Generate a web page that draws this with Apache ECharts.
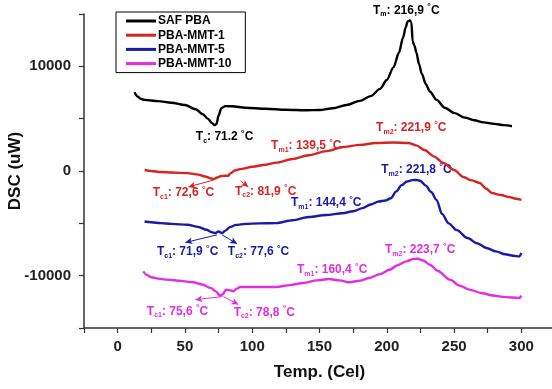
<!DOCTYPE html>
<html><head><meta charset="utf-8">
<script src="https://cdn.jsdelivr.net/npm/echarts@6/dist/echarts.min.js"></script>
<style>html,body{margin:0;padding:0;background:#fff}#c{width:552px;height:389px}</style>
</head><body><div id="c"></div>
<script>
// ---- data ----
const seriesNames = ['SAF PBA', 'PBA-MMT-1', 'PBA-MMT-5', 'PBA-MMT-10'];

const safTemp = [12.5,15,17,20,30,40,50,58,63,67,70,72,73.5,75,77,80,85,95,110,125,140,150,160,170,180,188,195,200,205,209,212,214,215.5,217,218.3,219.2,220.5,222,224,226,229,232,237,243,250,258,265,272,280,287,293];
const safDsc  = [7520,7100,6900,6800,6680,6520,6300,5900,5450,5000,4600,4380,4500,5300,6000,6200,6180,6050,5950,5850,5800,5830,6000,6300,6700,7150,7850,8700,9900,11300,12700,13700,14300,14380,14200,12400,12000,11300,10200,9300,8300,7600,6800,6050,5550,5100,4850,4650,4500,4380,4280];

const mmt1Temp = [20,25,32,40,52,60,65,69,71.5,74,77,80,82,84,87,92,100,110,118,130,142,155,168,180,192,205,216,222,228,235,242,250,257,263,269,274,278,285,291,296,300];
const mmt1Dsc  = [95,0,-100,-150,-200,-350,-520,-700,-780,-620,-480,-450,-470,-200,50,200,400,600,800,1150,1500,1900,2290,2500,2670,2720,2680,2450,2000,1400,760,100,-570,-900,-1140,-1700,-2100,-2300,-2480,-2650,-2760];

const mmt5Temp = [20,25,32,40,52,60,66,70,72.5,75,77.5,80,83.5,88,95,105,118,130,142,155,167,175,182,188,194,199,203,207,211,215,219,222,225,229,233,237,241,246,252,260,267,274,281,288,294,298.5,300];
const mmt5Dsc  = [-4830,-4900,-4980,-5050,-5140,-5350,-5620,-5850,-5940,-5780,-5940,-5700,-5360,-5150,-5050,-5000,-4980,-4700,-4400,-4200,-4030,-3850,-3550,-3200,-2920,-2820,-2600,-1950,-1350,-1000,-870,-860,-950,-1400,-2000,-2760,-4100,-5000,-5650,-6400,-6900,-7350,-7680,-7950,-8100,-8160,-7840];

const mmt10Temp = [19,22,25,30,37,47,56,63,69,73,76,78,80.5,83,86,88.5,91,100,110,118,128,138,148,157,165,172,180,187,195,202,208,214.5,220,223,227,232,238,247,254,261.5,270,279,288,298.5,300];
const mmt10Dsc  = [-9590,-9950,-10150,-10280,-10380,-10500,-10630,-10850,-11170,-11500,-11900,-11800,-11350,-11380,-11490,-11250,-11080,-11080,-11080,-11080,-10900,-10700,-10450,-10320,-10450,-10630,-10480,-10220,-9850,-9430,-9000,-8630,-8400,-8380,-8550,-8950,-9550,-10380,-10950,-11330,-11650,-11900,-12050,-12130,-11900];

const xTicks = [0,50,100,150,200,250,300];
const yTicks = [-10000,0,10000];

// annotations: [series, main symbol, subscript, value text, x, y]
const annotations = [
  [0,'T','m',': 216,9 ',214.5,15333],
  [0,'T','c',': 71.2 ',79.5,3240],
  [1,'T','m1',': 139,5 ',140.2,2380],
  [1,'T','m2',': 221,9 ',218.2,4100],
  [1,'T','c1',': 72,6 ',48.9,-2100],
  [1,'T','c2',': 81,9 ',110,-1950],
  [2,'T','m1',': 144,4 ',155,-3050],
  [2,'T','m2',': 221,8 ',222,95],
  [2,'T','c1',': 71,9 ',52,-7700],
  [2,'T','c2',': 77,6 ',104.7,-7700],
  [3,'T','c1',': 75,6 ',44.5,-13400],
  [3,'T','c2',': 78,8 ',109,-13520],
  [3,'T','m1',': 160,4 ',159.4,-9430],
  [3,'T','m2',': 223,7 ',224.8,-7520]
];
// arrows: [series, x1, y1, x2, y2]
const arrows = [
  [1,71.2,-860,52.6,-1520],
  [1,91.3,-950,97.1,-1520],
  [2,73.8,-6100,50.3,-6830],
  [2,77.6,-6100,88.7,-6950],
  [3,77.8,-12000,57.7,-12290],
  [3,78.6,-12000,89.7,-12760]
];

// ---- chart ----
const colors = ['#000000','#d42424','#1a1aa6','#e02ee0'];
const FONT = 'Liberation Sans, Arial, sans-serif';
const zip = (a,b) => a.map((v,i)=>[v,b[i]]);
const allData = [zip(safTemp,safDsc), zip(mmt1Temp,mmt1Dsc), zip(mmt5Temp,mmt5Dsc), zip(mmt10Temp,mmt10Dsc)];

const chart = echarts.init(document.getElementById('c'), null, {renderer:'canvas'});
const axisCol = '#333';
const option = {
  animation: false,
  backgroundColor: '#fff',
  grid: {left: 84, right: -3, top: 14, bottom: 61, containLabel: false, outerBoundsMode: 'none'},
  legend: {
    orient: 'vertical', left: 116, top: 12,
    data: seriesNames.map(n => ({name: n, icon: 'rect'})),
    borderColor: '#000', borderWidth: 1, borderRadius: 0,
    padding: [3, 14, 3, 10],
    itemWidth: 30, itemHeight: 3, itemGap: 2.2,
    textStyle: {fontFamily: FONT, fontWeight: 'bold', fontSize: 12, color: '#000', padding: [0,0,0,-3]}
  },
  xAxis: {
    type: 'value', min: -25, max: 325, interval: 25,
    name: 'Temp. (Cel)', nameLocation: 'middle', nameGap: 36, nameMoveOverlap: false,
    nameTextStyle: {fontFamily: FONT, fontWeight: 'bold', fontSize: 17, color: '#111'},
    axisLine: {show: true, onZero: false, lineStyle: {color: axisCol, width: 1.5}},
    axisTick: {show: true, length: 5, lineStyle: {color: axisCol, width: 1.2}},
    axisLabel: {fontFamily: FONT, fontWeight: 'bold', fontSize: 15, color: '#222', margin: 11,
      formatter: v => xTicks.includes(v) ? String(v) : ''},
    splitLine: {show: false}
  },
  yAxis: {
    type: 'value', min: -15000, max: 15000, interval: 5000,
    name: 'DSC (uW)', nameLocation: 'middle', nameGap: 60, nameMoveOverlap: false,
    nameTextStyle: {fontFamily: FONT, fontWeight: 'bold', fontSize: 17, color: '#111'},
    axisLine: {show: true, onZero: false, lineStyle: {color: axisCol, width: 1.5}},
    axisTick: {show: true, length: 5, lineStyle: {color: axisCol, width: 1.2}},
    axisLabel: {fontFamily: FONT, fontWeight: 'bold', fontSize: 15, color: '#222', margin: 13,
      formatter: v => yTicks.includes(v) ? String(v) : ''},
    splitLine: {show: false}
  },
  series: seriesNames.map((n,i) => ({
    name: n, type: 'line', data: allData[i], smooth: 0.3, smoothMonotone: 'x', clip: false,
    showSymbol: false, symbol: 'none',
    lineStyle: {color: colors[i], width: 2.4},
    itemStyle: {color: colors[i]},
    markLine: {
      silent: true, animation: false,
      symbol: ['none','arrow'], symbolSize: [5,7],
      lineStyle: {color: colors[i], width: 1, type: 'solid'},
      label: {show: false},
      data: arrows.filter(a => a[0]===i).map(a => [{coord:[a[1],a[2]]},{coord:[a[3],a[4]]}])
    }
  }))
};
chart.setOption(option);

function richFor(col){
  return {
    m: {fontFamily: FONT, fontWeight: 'bold', fontSize: 12, fill: col, color: col},
    s: {fontFamily: FONT, fontWeight: 'bold', fontSize: 7, fill: col, color: col, padding: [8,0,0,0]},
    d: {fontFamily: FONT, fontWeight: 'bold', fontSize: 9, fill: col, color: col, padding: [0,0,7,0]}
  };
}
const graphics = annotations.map(a => {
  const p = chart.convertToPixel({gridIndex: 0}, [a[4], a[5]]);
  const col = colors[a[0]];
  return {
    type: 'text', x: p[0], y: p[1], silent: true,
    style: {
      text: '{m|' + a[1] + '}{s|' + a[2] + '}{m|' + a[3] + '}{d|°}{m|C}',
      rich: richFor(col), fill: col,
      align: 'center', verticalAlign: 'middle'
    }
  };
});
chart.setOption({graphic: graphics});
</script>
</body></html>
